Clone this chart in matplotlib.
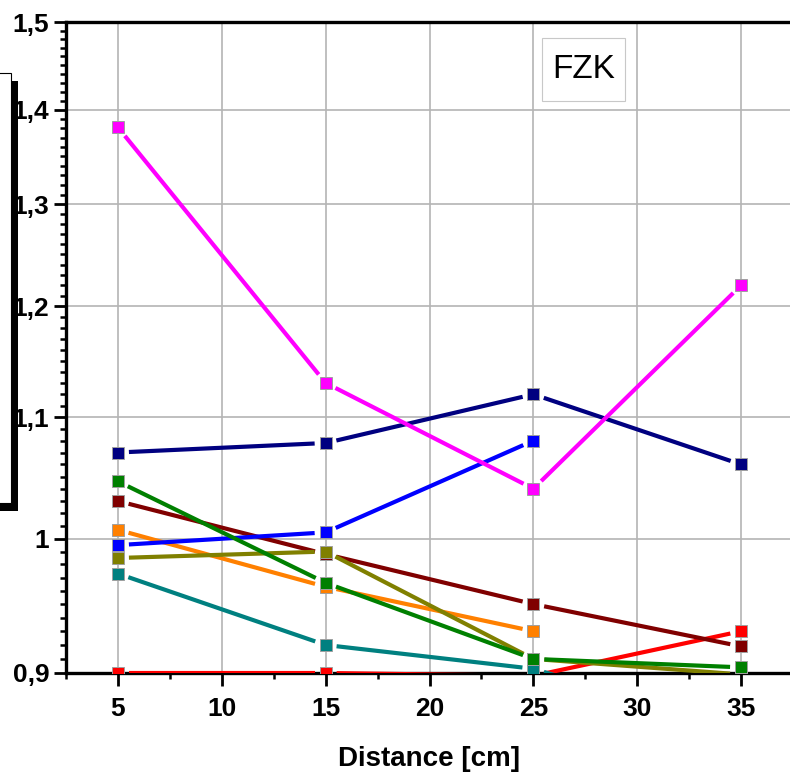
import matplotlib
matplotlib.use('Agg')
import matplotlib.pyplot as plt
import numpy as np
from matplotlib.ticker import FixedLocator, FixedFormatter, MultipleLocator, NullFormatter
from matplotlib.patches import Rectangle

# ........................................................ data
distance = [5, 15, 25, 35]
red     = [0.900, 0.900, 0.898, 0.930]
teal    = [0.973, 0.920, 0.903, 0.860]
orange  = [1.007, 0.963, 0.930]
maroon  = [1.030, 0.988, 0.950, 0.919]
olive   = [0.985, 0.990, 0.910, 0.899]
blue    = [0.995, 1.005, 1.080]
green   = [1.046, 0.966, 0.910, 0.904]
navy    = [1.070, 1.078, 1.120, 1.060]
magenta = [1.381, 1.130, 1.040, 1.220]

series = [(red, '#ff0000'), (teal, '#008080'), (orange, '#ff8000'),
          (maroon, '#800000'), (olive, '#808000'), (blue, '#0000ff'),
          (green, '#008000'), (navy, '#000080'), (magenta, '#ff00ff')]

yticks = [0.9, 1.0, 1.1, 1.2, 1.3, 1.4, 1.5]
ylabels = ['0,9', '1', '1,1', '1,2', '1,3', '1,4', '1,5']

# ........................................................ figure
W, H = 790, 775
fig = plt.figure(figsize=(W/100, H/100), dpi=100)
ax = fig.add_axes([66/W, 102/H, 727/W, 651/H])
ax.set_yscale('log')
ax.set_xlim(2.5, 37.5)
ax.set_ylim(0.9, 1.5)

ax.yaxis.set_major_locator(FixedLocator(yticks))
ax.yaxis.set_major_formatter(FixedFormatter(ylabels))
ax.yaxis.set_minor_locator(FixedLocator(np.arange(0.90, 1.5001, 0.01)))
ax.yaxis.set_minor_formatter(NullFormatter())
ax.xaxis.set_major_locator(MultipleLocator(5))
ax.xaxis.set_minor_locator(MultipleLocator(2.5))

for s in ax.spines.values():
    s.set_linewidth(2.4)
ax.tick_params(axis='both', which='major', width=2, length=9, labelsize=19, direction='out')
ax.tick_params(axis='both', which='minor', width=1.8, length=4.5, direction='out')
ax.tick_params(axis='x', which='major', pad=8)
ax.tick_params(axis='y', which='major', pad=3)
for lab in ax.get_xticklabels() + ax.get_yticklabels():
    lab.set_fontweight('bold')
    lab.set_family('Liberation Sans')

ax.grid(True, which='major', color='#b4b4b4', linewidth=1.2)
ax.set_axisbelow(True)

ax.set_xlabel('Distance [cm]', fontsize=20, fontweight='bold',
              family='Liberation Sans', labelpad=18)

# ........................................ lines with gaps near markers
gap = 11.0
fig.canvas.draw()
for vals, col in series:
    xs = distance[:len(vals)]
    pts = ax.transData.transform(np.column_stack([xs, vals]))
    for p, q in zip(pts[:-1], pts[1:]):
        d = q - p
        L = np.hypot(*d)
        if L <= 2*gap:
            continue
        u = d / L
        a = ax.transData.inverted().transform(p + u*gap)
        b = ax.transData.inverted().transform(q - u*gap)
        ax.plot([a[0], b[0]], [a[1], b[1]], color=col, lw=3.0,
                solid_capstyle='butt', zorder=3)
    ax.plot(xs, vals, ls='none', marker='s', ms=9.2, color=col,
            mec='#a0a0a0', mew=0.7, zorder=4)

# ........................................................ label box
ax.add_patch(Rectangle((0.6547, 0.8786), 0.1142, 0.0968, transform=ax.transAxes,
                       fc='white', ec='#c8c8c8', lw=0.8, zorder=5))
ax.text(0.712, 0.927, 'FZK', transform=ax.transAxes, fontsize=24,
        family='Liberation Sans', ha='center', va='center', zorder=6)

# ........................................ legend frame cut off at left
fig.add_artist(Rectangle((-3/W, 264/H), 21/W, 430/H, transform=fig.transFigure,
                         fc='black', ec='none'))
fig.add_artist(Rectangle((-10/W, 272/H), 21/W, 430/H, transform=fig.transFigure,
                         fc='white', ec='black', lw=0.8))

fig.savefig('out.png', dpi=100)
